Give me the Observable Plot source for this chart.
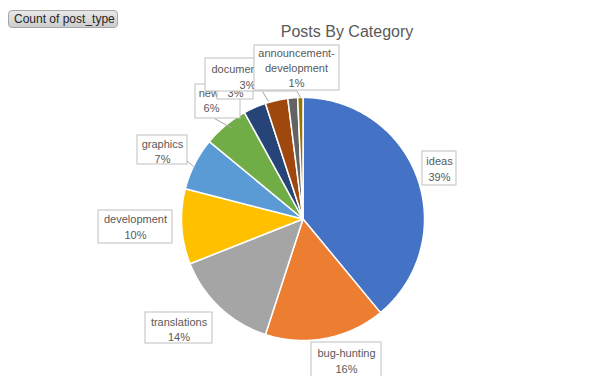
<!DOCTYPE html>
<html>
<head>
<meta charset="utf-8">
<script src="https://cdn.jsdelivr.net/npm/d3@7"></script>
<script src="https://cdn.jsdelivr.net/npm/@observablehq/plot@0.6"></script>
<style>
  html, body { margin: 0; padding: 0; background: #fff; }
  #wrap { position: relative; width: 603px; height: 376px; overflow: hidden; font-family: "Liberation Sans", Arial, sans-serif; }
  #btn { position: absolute; left: 8px; top: 10px; width: 110px; height: 18px; box-sizing: border-box;
         border: 1px solid #a6a6a6; border-radius: 4px; background: linear-gradient(#e8e8e8, #cdcdcd);
         font-size: 12px; line-height: 16px; color: #262626; padding-left: 5px; white-space: nowrap; }
  #title { position: absolute; left: 0; width: 694px; top: 23px; text-align: center; font-size: 16px; color: #595959; }
  svg { position: absolute; left: 0; top: 0; }
</style>
</head>
<body>
<div id="wrap"></div>
<script>
// ---- data ----
const categories = ["ideas", "bug-hunting", "translations", "development", "graphics", "news", "marketing", "documentation", "other", "announcement-development"];
const counts = [39, 16, 14, 10, 7, 6, 3, 3, 1.3, 0.7];
const colors = ["#4472C4", "#ED7D31", "#A5A5A5", "#FFC000", "#5B9BD5", "#70AD47", "#264478", "#9E480E", "#636363", "#997300"];
const titleText = "Posts By Category";
const fieldButton = "Count of post_type";

// ---- layout (pixels) ----
const W = 603, H = 376, cx = 302.5, cy = 218.5, R = 121.5;
const X = px => (px - cx) / R, Y = py => (cy - py) / R;
// label boxes [x1, y1, x2, y2], text centre x, line centres y
const labelLayout = {
  "ideas":        {box: [422, 151, 456, 185], tx: 439, ty: [161, 177]},
  "bug-hunting":  {box: [311, 342, 381, 380], tx: 346, ty: [353, 369]},
  "translations": {box: [145, 312, 212, 343], tx: 178.5, ty: [322, 337]},
  "development":  {box: [98, 210, 172, 243], tx: 135, ty: [219, 235]},
  "graphics":     {box: [137, 135, 187, 164], tx: 162, ty: [144, 159]},
  "news":         {box: [195, 84, 240, 118], tx: 211, ty: [93, 108]},
  "marketing":    {box: [217, 62, 253, 99], tx: 235, ty: [93]},
  "documentation":{box: [205, 58, 295, 91], tx: 247, ty: [69, 85]},
  "announcement-development": {box: [254, 45, 339, 90], tx: 296, ty: [53, 68, 83]}
};
const leaders = [
  {from: [186, 160], to: [193, 166]},
  {from: [214, 118], to: [232, 128]},
  {from: [262, 91], to: [268, 101]},
  {from: [296, 90], to: [300, 97]}
];

// ---- build pie polygons from the data ----
const total = d3.sum(counts);
const slices = [];
let acc = 0;
categories.forEach((c, i) => {
  const a0 = acc / total * 2 * Math.PI;
  acc += counts[i];
  const a1 = acc / total * 2 * Math.PI;
  slices.push({cat: c, x: 0, y: 0});
  const n = Math.max(2, Math.ceil((a1 - a0) / (Math.PI / 360)));
  for (let k = 0; k <= n; k++) {
    const a = a0 + (a1 - a0) * k / n;
    slices.push({cat: c, x: Math.sin(a), y: Math.cos(a)});
  }
});
const pct = c => Math.round(counts[categories.indexOf(c)] / total * 100) + "%";

const marks = [
  Plot.line(slices, {x: "x", y: "y", z: "cat", fill: "cat", stroke: "white", strokeWidth: 1.5, curve: "linear-closed"})
];
marks.push(Plot.link(leaders, {x1: d => X(d.from[0]), y1: d => Y(d.from[1]), x2: d => X(d.to[0]), y2: d => Y(d.to[1]), stroke: "#a6a6a6", strokeWidth: 1}));

const order = ["ideas", "bug-hunting", "translations", "development", "graphics", "news", "marketing", "documentation", "announcement-development"];
for (const c of order) {
  const L = labelLayout[c];
  let lines;
  if (c === "announcement-development") lines = ["announcement-", "development", pct(c)];
  else if (c === "marketing") lines = [pct(c)];
  else lines = [c, pct(c)];
  marks.push(Plot.rect([L], {x1: d => X(d.box[0]), x2: d => X(d.box[2]), y1: d => Y(d.box[1]), y2: d => Y(d.box[3]),
    fill: "white", stroke: "#bfbfbf", strokeWidth: 1}));
  const rows = lines.map((t, i) => ({t, x: X(L.tx), y: Y(L.ty[i])}));
  marks.push(Plot.text(rows, {x: "x", y: "y", text: "t", fill: "#595959", fontSize: 11, fontFamily: "Liberation Sans, Arial, sans-serif", textAnchor: "middle"}));
}

const chart = Plot.plot({
  width: W, height: H, margin: 0,
  x: {domain: [X(0), X(W)], range: [0, W], axis: null},
  y: {domain: [Y(H), Y(0)], range: [H, 0], axis: null},
  color: {domain: categories, range: colors},
  marks
});

const wrap = document.getElementById("wrap");
wrap.appendChild(chart);
const t = document.createElement("div"); t.id = "title"; t.textContent = titleText; wrap.appendChild(t);
const b = document.createElement("div"); b.id = "btn"; b.textContent = fieldButton; wrap.appendChild(b);
</script>
</body>
</html>
